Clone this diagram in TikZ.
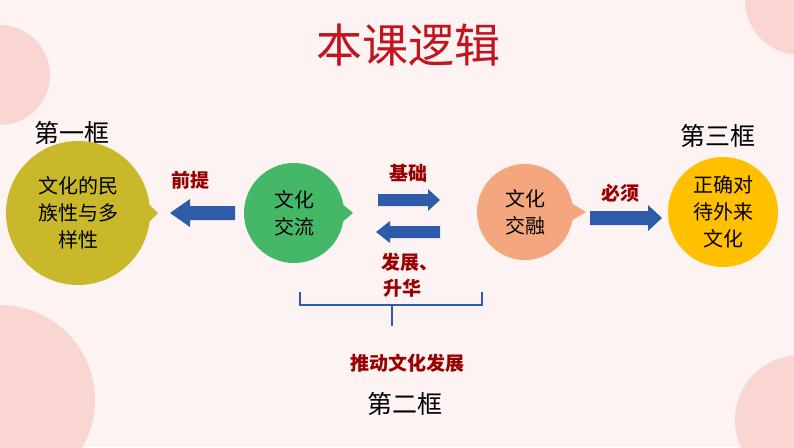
\documentclass[tikz,border=0pt]{standalone}
\usepackage{fontspec}
\newfontfamily\cjk{Noto Sans CJK SC}
\begin{document}
\begin{tikzpicture}[x=1pt,y=-1pt,
  lbl/.style={font=\cjk\fontsize{19}{22}\selectfont\bfseries, text=red!60!black},
  blk/.style={font=\cjk\fontsize{25}{28}\selectfont},
  ctext/.style={font=\cjk\fontsize{20}{27}\selectfont, align=center},
  barr/.style={fill=arrowblue, draw=none},
  ]
\definecolor{bg}{HTML}{FDF3F2}\definecolor{pk}{HTML}{FAD6D2}
\definecolor{arrowblue}{HTML}{2E5CA8}\definecolor{tred}{HTML}{C0141E}
\definecolor{cy}{HTML}{C9B92A}\definecolor{cg}{HTML}{45B868}
\definecolor{co}{HTML}{F4A77F}\definecolor{cgold}{HTML}{FFC000}
\fill[bg] (0,0) rectangle (794,447);
\useasboundingbox (0,0) rectangle (794,447);
\fill[pk] (0,75) circle (50);
\fill[pk] (0,400) circle (95);
\fill[pk] (800,0) circle (55);
\fill[pk] (800,420) circle (65);
\node[font=\cjk\fontsize{46}{50}\selectfont, text=tred] (title) at (408,45) {本课逻辑};
\node[blk] (f1) at (72,133) {第一框};
\node[blk] (f3) at (718,136) {第三框};
\node[blk] (f2) at (405,404) {第二框};
% bubbles
\fill[cy] (78,213) circle (72);
\fill[cy] (145,200) -- (158,213) -- (145,226) -- cycle;
\node[ctext] (a) at (78,213) {文化的民\\族性与多\\样性};
\fill[cg] (294,213) circle (50);
\fill[cg] (340,202) -- (353,213) -- (340,224) -- cycle;
\node[ctext] (b) at (294,213) {文化\\交流};
\fill[co] (525,212) circle (48);
\fill[co] (568,201) -- (586,212) -- (568,223) -- cycle;
\node[ctext] (c) at (525,212) {文化\\交融};
\fill[cgold] (723,212) circle (55);
\node[ctext] (d) at (723,212) {正确对\\待外来\\文化};
% arrows
\fill[barr] (235,206) -- (190,206) -- (190,199) -- (170,213) -- (190,227) -- (190,220) -- (235,220) -- cycle;
\fill[barr] (378,194) -- (428,194) -- (428,189) -- (440,200) -- (428,211) -- (428,206) -- (378,206) -- cycle;
\fill[barr] (440,226) -- (390,226) -- (390,221) -- (376,232) -- (390,243) -- (390,238) -- (440,238) -- cycle;
\fill[barr] (590,211) -- (648,211) -- (648,205) -- (662,218) -- (648,231) -- (648,225) -- (590,225) -- cycle;
\node[lbl] (l1) at (190,180) {前提};
\node[lbl] (l2) at (408,173) {基础};
\node[lbl] (l3) at (410,262) {发展、};
\node[lbl] (l4) at (402,288) {升华};
\node[lbl] (l5) at (620,193) {必须};
\node[lbl] (l6) at (407,363) {推动文化发展};
\draw[arrowblue, line width=2pt] (300,292) -- (300,305) -- (482,305) -- (482,292);
\draw[arrowblue, line width=2pt] (392,305) -- (392,326);
\end{tikzpicture}
\end{document}
